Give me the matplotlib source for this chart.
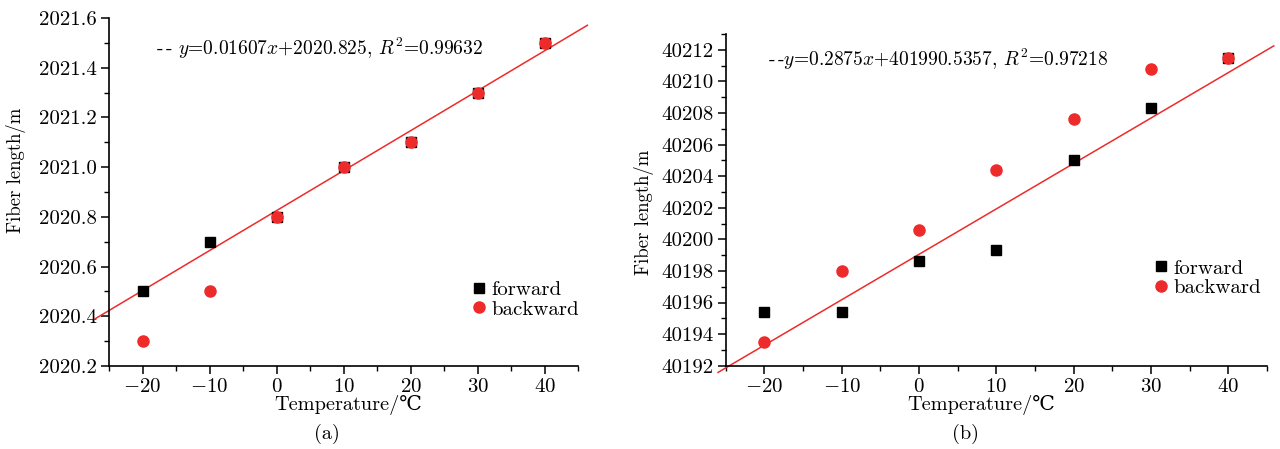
import numpy as np
import matplotlib
matplotlib.use("Agg")
import matplotlib.pyplot as plt
from matplotlib.ticker import MultipleLocator, FormatStrFormatter

plt.rcParams['font.family'] = ['cmr10', 'DejaVu Serif']
plt.rcParams['mathtext.fontset'] = 'cm'
plt.rcParams['axes.formatter.use_mathtext'] = True
plt.rcParams['axes.unicode_minus'] = True

# data
temps = [-20, -10, 0, 10, 20, 30, 40]

fwd_a = [2020.5, 2020.7, 2020.8, 2021.0, 2021.1, 2021.3, 2021.5]
bwd_a = [2020.3, 2020.5, 2020.8, 2021.0, 2021.1, 2021.3, 2021.5]
fit_a = (0.01607, 2020.825)
fit_xa = [-27.1, 46.4]
eq_a = r'-$\,$- $y$=0.01607$x$+2020.825, $R^2$=0.99632'

fwd_b = [40195.4, 40195.4, 40198.6, 40199.3, 40205.0, 40208.3, 40211.5]
bwd_b = [40193.5, 40198.0, 40200.6, 40204.4, 40207.6, 40210.8, 40211.5]
fit_b = (0.2875, 40199.05)
fit_xb = [-26.0, 45.9]
eq_b = r'-$\,$-$y$=0.2875$x$+401990.5357, $R^2$=0.97218'

RED = '#ee2b2b'
FS = 15

fig = plt.figure(figsize=(12.8, 4.49), dpi=100)
ax1 = fig.add_axes([0.0852, 0.1849, 0.3664, 0.7751])
ax2 = fig.add_axes([0.567, 0.1855, 0.4227, 0.7388])


def draw(ax, fwd, bwd, fit, fit_x, eq, ylim, ymaj, ymin, eq_pos, leg_pos, xl_pos, yl_pos):
    ax.plot(temps, fwd, 's', color='black', ms=7, label='forward', zorder=3)
    ax.plot(temps, bwd, 'o', color=RED, ms=8, label='backward', zorder=4)
    xs = np.array(fit_x)
    ax.plot(xs, fit[0] * xs + fit[1], '-', color=RED, lw=1.1, clip_on=False, zorder=2)
    ax.set_xlim(-25, 45)
    ax.set_ylim(*ylim)
    ax.xaxis.set_major_locator(MultipleLocator(10))
    ax.xaxis.set_minor_locator(MultipleLocator(5))
    ax.yaxis.set_major_locator(MultipleLocator(ymaj))
    ax.yaxis.set_minor_locator(MultipleLocator(ymin))
    for s in ['top', 'right']:
        ax.spines[s].set_visible(False)
    for s in ['left', 'bottom']:
        ax.spines[s].set_linewidth(1.2)
    ax.tick_params(which='major', direction='out', length=6, width=1.1, labelsize=FS, pad=3)
    ax.tick_params(which='minor', direction='out', length=3.5, width=1.0)
    ax.set_xlabel('Temperature/℃', fontsize=14.6, va='center')
    ax.xaxis.set_label_coords(*xl_pos)
    ax.set_ylabel('Fiber length/m', fontsize=13.5, va='center', ha='center')
    ax.yaxis.set_label_coords(*yl_pos)
    ax.text(eq_pos[0], eq_pos[1], eq, transform=ax.transAxes, fontsize=14,
            va='center', ha='left')
    ax.legend(loc='center left', bbox_to_anchor=leg_pos, frameon=False, fontsize=FS,
              handlelength=0.6, handletextpad=0.3, labelspacing=0.05, borderpad=0,
              borderaxespad=0)


draw(ax1, fwd_a, bwd_a, fit_a, fit_xa, eq_a, (2020.2, 2021.6), 0.2, 0.1,
     (0.1, 0.914), (0.776, 0.191), (0.51, -0.112), (-0.198, 0.563))
ax1.yaxis.set_major_formatter(FormatStrFormatter('%.1f'))
draw(ax2, fwd_b, bwd_b, fit_b, fit_xb, eq_b, (40192, 40213), 2, 1,
     (0.078, 0.922), (0.793, 0.264), (0.472, -0.118), (-0.151, 0.463))
ax2.yaxis.set_major_formatter(FormatStrFormatter('%d'))

fig.text(327 / 1280, 1 - 434 / 449, '(a)', fontsize=14.6, ha='center', va='center')
fig.text(966 / 1280, 1 - 434 / 449, '(b)', fontsize=14.6, ha='center', va='center')

fig.savefig('out.png', dpi=100)
